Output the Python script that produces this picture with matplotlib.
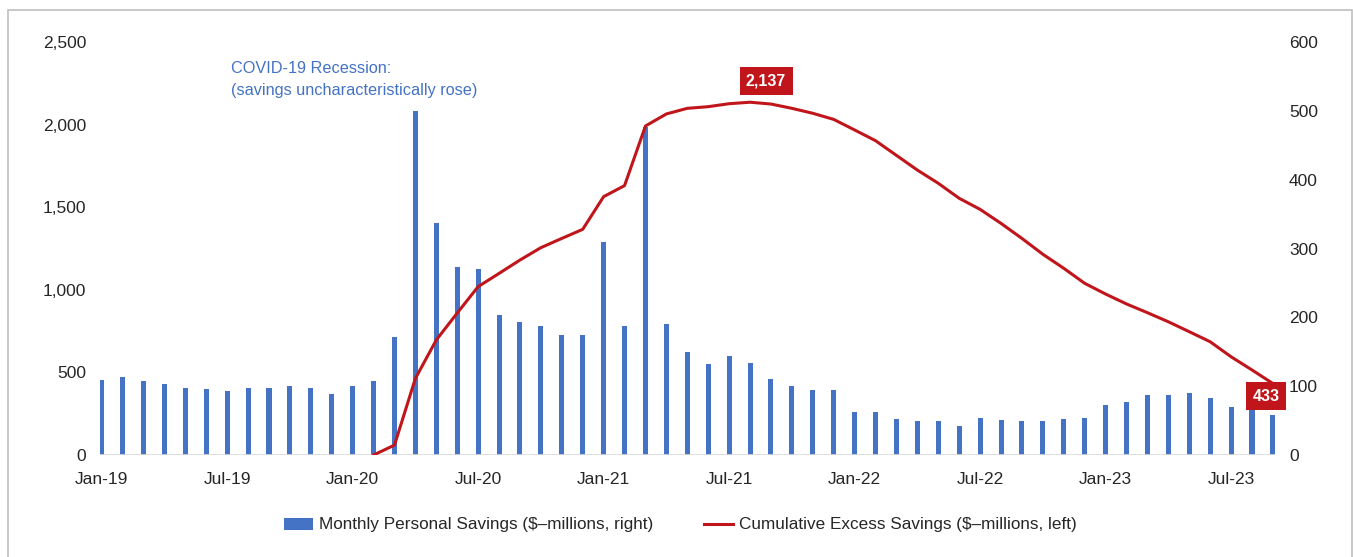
import numpy as np
import matplotlib
matplotlib.use("Agg")
import matplotlib.pyplot as plt
from matplotlib.patches import Rectangle
from matplotlib.ticker import FuncFormatter, MultipleLocator

plt.rcParams['font.family'] = ['Liberation Sans', 'DejaVu Sans']

# monthly labels Jan-19 .. Sep-23
months = [f"{m}-{y}" for y in range(19, 24)
          for m in ["Jan", "Feb", "Mar", "Apr", "May", "Jun",
                    "Jul", "Aug", "Sep", "Oct", "Nov", "Dec"]][:57]

# monthly personal savings ($-millions), right axis
monthly_savings = [
    109, 113, 108, 103, 98, 96, 93, 97, 98, 100, 98, 88,      # 2019
    100, 108, 171, 500, 338, 273, 270, 203, 193, 187, 175, 175,  # 2020
    310, 188, 477, 191, 150, 133, 144, 134, 110, 101, 95, 94,  # 2021
    62, 63, 52, 49, 49, 42, 54, 51, 49, 49, 53, 54,            # 2022
    72, 77, 87, 87, 90, 83, 70, 78, 58,                        # 2023
]

# cumulative excess savings ($-millions), left axis, starts Feb-20
cumulative_excess = [np.nan] * 13 + [
    0, 60, 464, 697, 860, 1020, 1100, 1181, 1256, 1312, 1367,
    1565, 1632, 1993, 2066, 2100, 2110, 2128, 2137, 2126, 2100, 2070, 2033,
    1969, 1904, 1815, 1726, 1646, 1555, 1488, 1403, 1312, 1216, 1131, 1040,
    975, 915, 862, 807, 747, 686, 595, 515, 433,
]

BLUE = "#4472C4"
RED = "#C0161B"
TXT = "#262626"

fig = plt.figure(figsize=(13.53, 5.57), dpi=100)
W, H = 1353, 557
ax = fig.add_axes([100 / W, 1 - 455 / H, 1175 / W, (455 - 42.3) / H])
ax2 = ax.twinx()

x = np.arange(len(months))
ax2.bar(x, monthly_savings, width=0.24, color=BLUE, zorder=2,
        label="Monthly Personal Savings ($\u2013millions, right)")
ax.plot(x, cumulative_excess, color=RED, lw=2.2, solid_joinstyle='round',
        label="Cumulative Excess Savings ($\u2013millions, left)")

# line sits above the bars
ax.set_zorder(ax2.get_zorder() + 1)
ax.patch.set_visible(False)

ax.set_xlim(-0.08, len(months) - 1 + 0.1)
ax.set_ylim(0, 2500)
ax2.set_ylim(0, 600)
ax.yaxis.set_major_locator(MultipleLocator(500))
ax2.yaxis.set_major_locator(MultipleLocator(100))
ax.yaxis.set_major_formatter(FuncFormatter(lambda v, p: f"{v:,.0f}"))

ax.set_xticks(x[::6])
ax.set_xticklabels(months[::6])

for a in (ax, ax2):
    for s in a.spines.values():
        s.set_visible(False)
    a.tick_params(length=0, labelsize=12.5, labelcolor=TXT)
ax.tick_params(axis='x', pad=12)
ax.tick_params(axis='y', pad=10)
ax2.tick_params(axis='y', pad=10)
ax.axhline(0, color="#d9d9d9", lw=1.2, zorder=0)

# value labels on the cumulative line
box = dict(boxstyle="square,pad=0.4", fc=RED, ec="none")
ax.annotate("2,137", (31, 2137), xytext=(16, 21), textcoords="offset pixels",
            ha="center", va="center", color="white", fontsize=11.5,
            fontweight="bold", bbox=box)
ax.annotate("433", (56, 433), xytext=(-7, -12.5), textcoords="offset pixels",
            ha="center", va="center", color="white", fontsize=11.5,
            fontweight="bold", bbox=box, zorder=5)

ax.text(6.18, 2385, "COVID-19 Recession:\n(savings uncharacteristically rose)",
        color=BLUE, fontsize=11.7, va="top", ha="left", linespacing=1.55)

h1, l1 = ax2.get_legend_handles_labels()
h2, l2 = ax.get_legend_handles_labels()
fig.legend(h1 + h2, l1 + l2, loc="center", bbox_to_anchor=(0.503, 1 - 525 / H),
           ncol=2, frameon=False, fontsize=12.3, columnspacing=3.0,
           handlelength=1.7, handletextpad=0.35, labelcolor=TXT)

# thin frame around the chart area
fig.add_artist(Rectangle((8 / W, -0.02), (1352 - 8) / W, 1.02 - 10 / H,
                         transform=fig.transFigure, fill=False,
                         ec="#bfbfbf", lw=1.2))

fig.savefig("out.png", dpi=100)
